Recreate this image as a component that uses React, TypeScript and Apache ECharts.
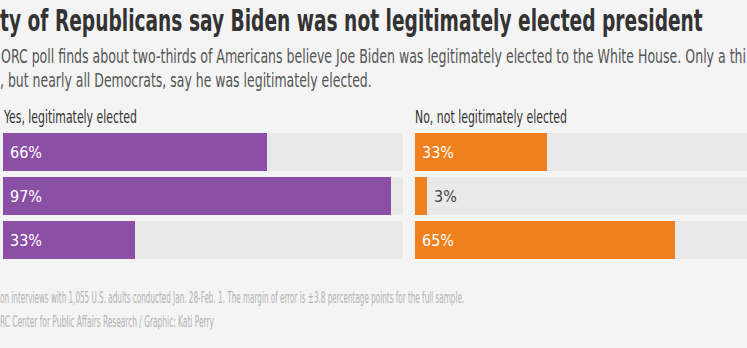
import React, { useEffect, useRef } from "react";
import * as echarts from "echarts";

const categories = ["All adults", "Democrats", "Republicans"];
const yesValues = [66, 97, 33];
const noValues = [33, 3, 65];

const titleText = "ty of Republicans say Biden was not legitimately elected president";
const subLine1 = "ORC poll finds about two-thirds of Americans believe Joe Biden was legitimately elected to the White House. Only a thi";
const subLine2 = ", but nearly all Democrats, say he was legitimately elected.";
const yesHeader = "Yes, legitimately elected";
const noHeader = "No, not legitimately elected";
const footLine1 = "on interviews with 1,055 U.S. adults conducted Jan. 28-Feb. 1. The margin of error is ±3.8 percentage points for the full sample.";
const footLine2 = "RC Center for Public Affairs Research / Graphic: Kati Perry";

const FAMILY = "'Liberation Sans Narrow', 'DejaVu Sans Condensed', 'Roboto', sans-serif";

function measure(text: string, size: number, weight: string): number {
  const c = document.createElement("canvas");
  const ctx = c.getContext("2d");
  if (!ctx) return text.length * size * 0.45;
  ctx.font = `${weight} ${size}px ${FAMILY}`;
  return ctx.measureText(text).width;
}

function fitText(text: string, x: number, y: number, width: number, size: number, weight: string, fill: string) {
  const w = measure(text, size, weight);
  return {
    type: "text",
    x,
    y,
    scaleX: width / w,
    silent: true,
    style: {
      text,
      fontSize: size,
      fontWeight: weight,
      fontFamily: FAMILY,
      fill,
      verticalAlign: "middle",
      align: "left",
    },
  };
}

export default function App() {
  const ref = useRef<HTMLDivElement>(null);
  useEffect(() => {
    if (!ref.current) return;
    const chart = echarts.init(ref.current, null, { renderer: "svg" });
    const labelBase = {
      show: true,
      position: "insideLeft",
      distance: 7,
      formatter: "{c}%",
      color: "#ffffff",
      fontSize: 16,
      fontFamily: FAMILY,
    };
    const toData = (vals: number[]) =>
      vals.map((v) => (v < 10 ? { value: v, label: { position: "right", color: "#444444" } } : v));
    const option: any = {
      animation: false,
      backgroundColor: "#f4f4f4",
      grid: [
        { left: 3, top: 130, width: 400, height: 132 },
        { left: 415, top: 130, width: 332, height: 132 },
      ],
      xAxis: [
        { gridIndex: 0, type: "value", min: 0, max: 100, show: false },
        // right panel runs past the page edge: 332px visible of a 400px full scale
        { gridIndex: 1, type: "value", min: 0, max: 83, show: false },
      ],
      yAxis: [
        { gridIndex: 0, type: "category", data: categories, inverse: true, show: false },
        { gridIndex: 1, type: "category", data: categories, inverse: true, show: false },
      ],
      series: [
        {
          type: "bar",
          xAxisIndex: 0,
          yAxisIndex: 0,
          barWidth: 38,
          data: toData(yesValues),
          itemStyle: { color: "#8b4fa6" },
          showBackground: true,
          backgroundStyle: { color: "#e9e9e9" },
          label: labelBase,
        },
        {
          type: "bar",
          xAxisIndex: 1,
          yAxisIndex: 1,
          barWidth: 38,
          data: toData(noValues),
          itemStyle: { color: "#f0801e" },
          showBackground: true,
          backgroundStyle: { color: "#e9e9e9" },
          label: labelBase,
        },
      ],
      graphic: [
        fitText(titleText, 0, 21, 703, 30, "bold", "#333333"),
        fitText(subLine1, 1, 57, 746, 19, "normal", "#555555"),
        fitText(subLine2, 0, 81, 372, 19, "normal", "#555555"),
        fitText(yesHeader, 4, 117, 133, 17, "normal", "#333333"),
        fitText(noHeader, 415, 117, 152, 17, "normal", "#333333"),
        fitText(footLine1, 0, 298, 465, 15, "normal", "#b3b3b3"),
        fitText(footLine2, 0, 322, 214, 15, "normal", "#b3b3b3"),
      ],
    };
    chart.setOption(option);
    return () => chart.dispose();
  }, []);
  return (
    <div
      ref={ref}
      style={{ position: "fixed", left: 0, top: 0, width: 747, height: 348 }}
    />
  );
}
